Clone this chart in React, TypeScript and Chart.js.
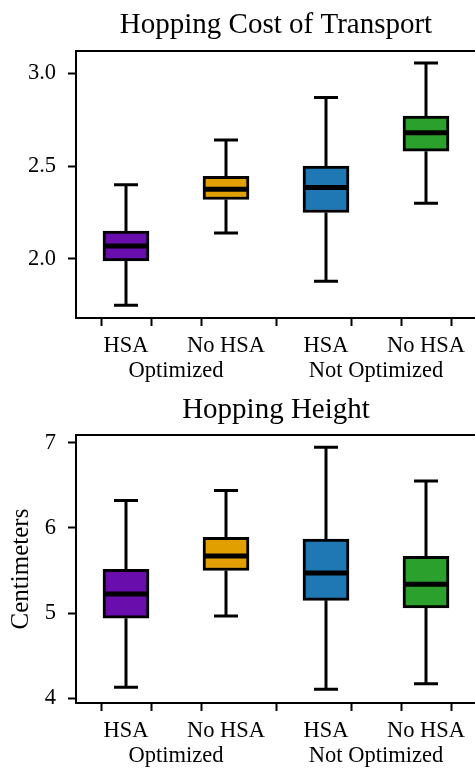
import React, { useEffect, useRef } from 'react';
import { Chart, registerables } from 'chart.js';

Chart.register(...registerables);
Chart.defaults.color = '#000';

// ---- shared categories / ticks ----
const positions = [1, 2, 3, 4];
const boxColors = ['#6A0DAD', '#E1A000', '#1F77B4', '#2CA02C'];
const xTickValues = [1, 1.5, 2, 3, 3.5, 4];
const xTickLabels = [['HSA'], ['', 'Optimized'], ['No HSA'], ['HSA'], ['', 'Not Optimized'], ['No HSA']];
const xRange = [0.5, 4.5];

// ---- Hopping Cost of Transport ----
const cotTitle = 'Hopping Cost of Transport';
const cotMin = [1.75, 2.14, 1.88, 2.3];
const cotQ1 = [1.99, 2.32, 2.25, 2.58];
const cotMed = [2.07, 2.375, 2.385, 2.68];
const cotQ3 = [2.15, 2.445, 2.5, 2.77];
const cotMax = [2.4, 2.64, 2.87, 3.055];
const cotTicks = [2.0, 2.5, 3.0];
const cotRange = [1.682, 3.12];

// ---- Hopping Height ----
const htTitle = 'Hopping Height';
const htLabel = 'Centimeters';
const htMin = [4.13, 4.965, 4.105, 4.17];
const htQ1 = [4.94, 5.5, 5.15, 5.06];
const htMed = [5.225, 5.67, 5.47, 5.34];
const htQ3 = [5.515, 5.89, 5.87, 5.665];
const htMax = [6.32, 6.44, 6.945, 6.55];
const htTicks = [4, 5, 6, 7];
const htRange = [3.945, 7.09];

const FONT = 'Liberation Serif';
const BOX_W = 0.46;
const CAP_W = 0.24;
const TITLE_SIZE = 29;

type PanelProps = {
  title: string;
  yLabel?: string;
  min: number[];
  q1: number[];
  med: number[];
  q3: number[];
  max: number[];
  yTicks: number[];
  yRange: number[];
  yFormat: (v: number) => string;
  top: number;
  width: number;
  height: number;
  areaTop: number;
  areaBottom: number;
  areaLeft: number;
};

const framePlugin = {
  id: 'frame',
  afterDatasetsDraw(chart: any) {
    const { ctx, chartArea } = chart;
    ctx.save();
    ctx.strokeStyle = '#000';
    ctx.lineWidth = 2;
    ctx.strokeRect(chartArea.left, chartArea.top, chartArea.right - chartArea.left, chartArea.bottom - chartArea.top);
    ctx.restore();
  },
};

function BoxPanel(p: PanelProps) {
  const ref = useRef<HTMLCanvasElement>(null);
  useEffect(() => {
    if (!ref.current) return;
    const whiskers: any[] = [];
    const medians: any[] = [];
    positions.forEach((x, i) => {
      whiskers.push({ x, y: p.min[i] }, { x, y: p.q1[i] }, { x, y: null });
      whiskers.push({ x, y: p.q3[i] }, { x, y: p.max[i] }, { x, y: null });
      whiskers.push({ x: x - CAP_W / 2, y: p.min[i] }, { x: x + CAP_W / 2, y: p.min[i] }, { x, y: null });
      whiskers.push({ x: x - CAP_W / 2, y: p.max[i] }, { x: x + CAP_W / 2, y: p.max[i] }, { x, y: null });
      medians.push({ x: x - BOX_W / 2, y: p.med[i] }, { x: x + BOX_W / 2, y: p.med[i] }, { x, y: null });
    });
    const gridOpts = {
      display: true,
      drawOnChartArea: false,
      drawTicks: true,
      tickLength: 8,
      tickWidth: 2,
      tickColor: '#000',
    };
    const chart = new Chart(ref.current, {
      type: 'bar',
      data: {
        datasets: [
          {
            type: 'bar',
            data: positions.map((x, i) => ({ x, y: [p.q1[i], p.q3[i]] })) as any,
            backgroundColor: boxColors,
            borderColor: '#000',
            borderWidth: 3,
            borderSkipped: false,
            barThickness: 46,
            order: 2,
          } as any,
          {
            type: 'line',
            data: whiskers,
            borderColor: '#000',
            borderWidth: 3,
            pointRadius: 0,
            spanGaps: false,
            fill: false,
            order: 1,
          } as any,
          {
            type: 'line',
            data: medians,
            borderColor: '#000',
            borderWidth: 5,
            pointRadius: 0,
            spanGaps: false,
            fill: false,
            order: 0,
          } as any,
        ],
      },
      options: {
        responsive: false,
        animation: false,
        devicePixelRatio: 1,
        layout: { padding: 0 },
        plugins: {
          legend: { display: false },
          tooltip: { enabled: false },
          title: {
            display: true,
            text: p.title,
            fullSize: false,
            color: '#000',
            font: { family: FONT, size: TITLE_SIZE, weight: 'normal', lineHeight: 1.2 },
            padding: { top: 8, bottom: p.areaTop - 8 - TITLE_SIZE * 1.2 },
          },
        },
        scales: {
          x: {
            type: 'linear',
            min: xRange[0],
            max: xRange[1],
            offset: false,
            afterBuildTicks: (s: any) => {
              s.ticks = xTickValues.map((v) => ({ value: v }));
            },
            afterFit: (s: any) => {
              s.height = p.height - p.areaBottom;
            },
            ticks: {
              autoSkip: false,
              maxRotation: 0,
              minRotation: 0,
              padding: 7,
              color: '#000',
              font: { family: FONT, size: 22.5, lineHeight: 1.12 },
              callback: (_v: any, i: number) => xTickLabels[i],
            },
            grid: gridOpts,
            border: { display: false },
          },
          y: {
            type: 'linear',
            min: p.yRange[0],
            max: p.yRange[1],
            afterBuildTicks: (s: any) => {
              s.ticks = p.yTicks.map((v) => ({ value: v }));
            },
            afterFit: (s: any) => {
              s.width = p.areaLeft;
            },
            ticks: {
              padding: 12,
              color: '#000',
              font: { family: FONT, size: 22.5, lineHeight: 1.12 },
              callback: (v: any) => p.yFormat(Number(v)),
            },
            grid: gridOpts,
            border: { display: false },
            title: p.yLabel
              ? {
                  display: true,
                  text: p.yLabel,
                  color: '#000',
                  font: { family: FONT, size: 25, lineHeight: 1.2 },
                  padding: { top: 6, bottom: 0 },
                }
              : { display: false },
          },
        },
      } as any,
      plugins: [framePlugin],
    });
    return () => chart.destroy();
  }, []);
  return (
    <canvas
      ref={ref}
      width={p.width}
      height={p.height}
      style={{ position: 'absolute', left: 0, top: p.top, width: p.width + 'px', height: p.height + 'px' }}
    />
  );
}

export default function App() {
  return (
    <div
      style={{
        position: 'absolute',
        left: 0,
        top: 0,
        width: '475px',
        height: '769px',
        overflow: 'hidden',
        background: '#fff',
      }}
    >
      <BoxPanel
        title={cotTitle}
        min={cotMin}
        q1={cotQ1}
        med={cotMed}
        q3={cotQ3}
        max={cotMax}
        yTicks={cotTicks}
        yRange={cotRange}
        yFormat={(v) => v.toFixed(1)}
        top={0}
        width={476}
        height={385}
        areaTop={51}
        areaBottom={318}
        areaLeft={76}
      />
      <BoxPanel
        title={htTitle}
        yLabel={htLabel}
        min={htMin}
        q1={htQ1}
        med={htMed}
        q3={htQ3}
        max={htMax}
        yTicks={htTicks}
        yRange={htRange}
        yFormat={(v) => String(v)}
        top={385}
        width={476}
        height={384}
        areaTop={50}
        areaBottom={318}
        areaLeft={76}
      />
    </div>
  );
}
